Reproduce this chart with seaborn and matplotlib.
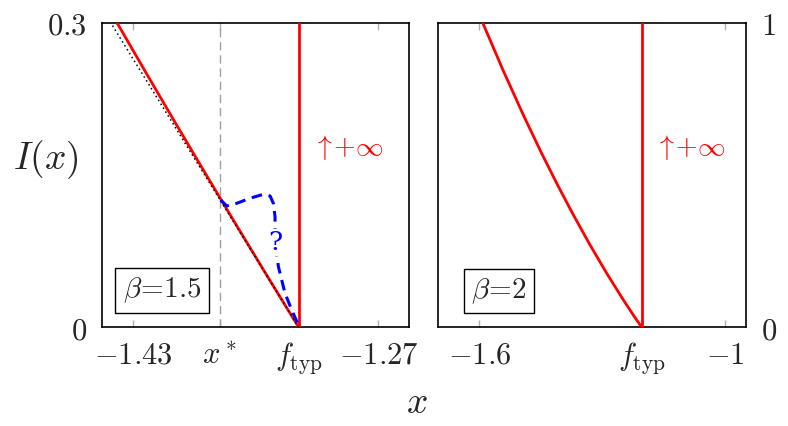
import numpy as np
import pandas as pd
import matplotlib
matplotlib.use("Agg")
import matplotlib.pyplot as plt
import seaborn as sns

# ---------------- data ----------------
# left panel, beta = 1.5
xlim_left = (-1.45, -1.25)
ylim_left = (0.0, 0.3)
x_star = -1.3735
f_typ_left = -1.322
left_xticks = [-1.43, x_star, f_typ_left, -1.27]
left_xticklabels = [r"$-1.43$", r"$x^*$", r"$f_{\rm typ}$", r"$-1.27$"]
left_yticks = [0.0, 0.3]
left_yticklabels = [r"$0$", r"$0.3$"]

red_left_x = [-1.322, -1.342, -1.362, -1.382, -1.402, -1.422, -1.4404]
red_left_y = [0.0, 0.0493, 0.0991, 0.1495, 0.2004, 0.2520, 0.3]

dotted_x = [-1.322, -1.4445]
dotted_y = [0.0, 0.3]

blue_x = [-1.3728, -1.3689, -1.3624, -1.3537, -1.3450, -1.3406, -1.3385,
          -1.3374, -1.3374, -1.3352, -1.3309, -1.3265, -1.3217]
blue_y = [0.1254, 0.1195, 0.1221, 0.1271, 0.1310, 0.1293, 0.1221,
          0.1089, 0.0843, 0.0597, 0.0335, 0.0170, 0.0006]

# right panel, beta = 2
xlim_right = (-1.7, -0.95)
ylim_right = (0.0, 1.0)
f_typ_right = -1.204
right_xticks = [-1.6, f_typ_right, -1.0]
right_xticklabels = [r"$-1.6$", r"$f_{\rm typ}$", r"$-1$"]
right_yticks = [0.0, 1.0]
right_yticklabels = [r"$0$", r"$1$"]

red_right_x = [-1.5918, -1.5416, -1.4928, -1.4480, -1.4114, -1.3709,
               -1.3302, -1.2895, -1.2491, -1.2247, -1.2042]
red_right_y = [1.0, 0.8424, 0.6973, 0.5709, 0.4728, 0.3693,
               0.2705, 0.1773, 0.0903, 0.0404, 0.0]

# ---------------- style ----------------
sns.set_style("white")
plt.rcParams["mathtext.fontset"] = "cm"
plt.rcParams["font.family"] = ["DejaVu Serif"]

RED = "#ff0000"
BLUE = "#0000ff"
FS = 22

fig = plt.figure(figsize=(7.88, 4.26), dpi=100)
ax1 = fig.add_axes([0.1298, 0.2317, 0.3894, 0.715])
ax2 = fig.add_axes([0.5562, 0.2317, 0.3905, 0.715])

def line(ax, xs, ys, **kw):
    df = pd.DataFrame({"x": xs, "y": ys})
    sns.lineplot(data=df, x="x", y="y", ax=ax, sort=False, estimator=None, **kw)

# left panel
ax1.axvline(x_star, color="#a0a0a0", lw=1.0, ls=(0, (6, 3.5)), zorder=1)
line(ax1, red_left_x, red_left_y, color=RED, lw=2.0, zorder=3)
line(ax1, dotted_x, dotted_y, color="black", lw=1.1, linestyle=(0, (1, 2)), zorder=3.5)
line(ax1, [f_typ_left, f_typ_left], [0.0, 0.3], color=RED, lw=2.0, zorder=3)
line(ax1, blue_x, blue_y, color=BLUE, lw=2.2, linestyle=(0, (3.5, 2.2)), zorder=4)
ax1.text(-1.3372, 0.0835, "?", color=BLUE, fontsize=19, ha="center", va="center",
         family=["DejaVu Serif"], zorder=5,
         bbox=dict(facecolor="white", edgecolor="none", pad=0.3))
ax1.text(-1.2894, 0.1771, r"$\uparrow\!\!+\!\infty$", color=RED, fontsize=20,
         ha="center", va="center")
ax1.text(-1.4111, 0.0364, r"$\beta\!=\!1.5$", fontsize=21, ha="center", va="center",
         bbox=dict(facecolor="white", edgecolor="black", lw=1.0, boxstyle="square,pad=0.25"))

ax1.set_xlim(*xlim_left)
ax1.set_ylim(*ylim_left)
ax1.set_xticks(left_xticks)
ax1.set_xticklabels(left_xticklabels)
ax1.set_yticks(left_yticks)
ax1.set_yticklabels(left_yticklabels)
ax1.set_xlabel("")
ax1.set_ylabel(r"$I(x)$", fontsize=27, rotation=0, ha="center", va="center")
ax1.yaxis.set_label_coords(-0.1836, 0.549)

# right panel
line(ax2, red_right_x, red_right_y, color=RED, lw=2.0, zorder=3)
line(ax2, [f_typ_right, f_typ_right], [0.0, 1.0], color=RED, lw=2.0, zorder=3)
ax2.text(-1.0853, 0.5903, r"$\uparrow\!\!+\!\infty$", color=RED, fontsize=20,
         ha="center", va="center")
ax2.text(-1.552, 0.1198, r"$\beta\!=\!2$", fontsize=21, ha="center", va="center",
         bbox=dict(facecolor="white", edgecolor="black", lw=1.0, boxstyle="square,pad=0.25"))

ax2.set_xlim(*xlim_right)
ax2.set_ylim(*ylim_right)
ax2.set_xticks(right_xticks)
ax2.set_xticklabels(right_xticklabels)
ax2.yaxis.tick_right()
ax2.set_yticks(right_yticks)
ax2.set_yticklabels(right_yticklabels)
ax2.set_xlabel("")
ax2.set_ylabel("")

for ax in (ax1, ax2):
    for s in ax.spines.values():
        s.set_visible(True)
        s.set_color("black")
        s.set_linewidth(1.2)
    ax.tick_params(axis="x", direction="in", top=True, bottom=True, length=5,
                   width=1.0, color="#b0b0b0", labelsize=FS, pad=9)
    ax.tick_params(axis="y", direction="in", length=0, labelsize=FS, pad=11)

fig.text(0.529, 0.054, r"$x$", fontsize=27, ha="center", va="center")

fig.savefig("out.png", dpi=100)
